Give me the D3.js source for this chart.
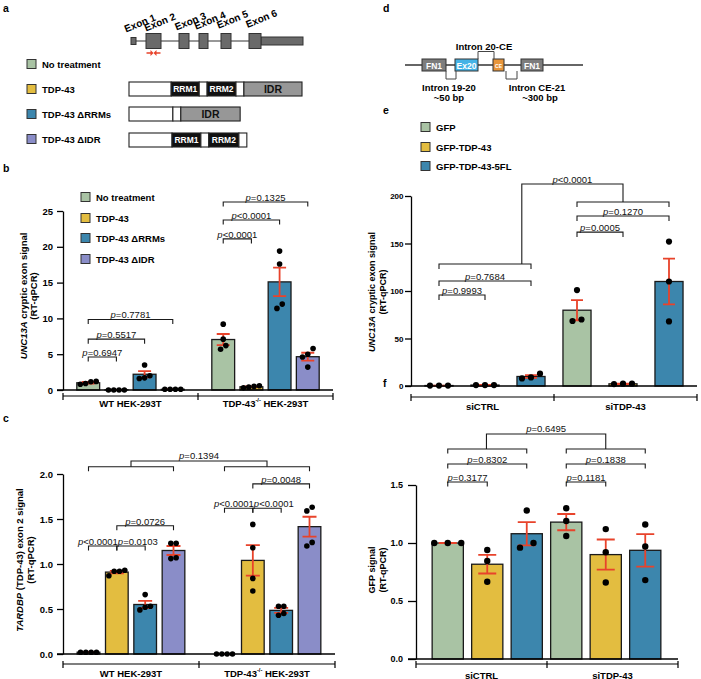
<!DOCTYPE html>
<html><head><meta charset="utf-8">
<script src="https://cdn.jsdelivr.net/npm/d3@7"></script>
<style>
body{margin:0;background:#fff}
svg{display:block;font-family:"Liberation Sans",Arial,Helvetica,sans-serif}
</style></head><body>
<svg id="fig" width="701" height="679"></svg>
<script>
// ================= DATA =================
const colBC = ["#a9c3a4","#e3bd40","#3c86ad","#8a8dc8"];
const colEF = ["#a9c3a4","#e3bd40","#3c86ad"];

// panel a
const exonNames = ["Exon 1","Exon 2","Exon 3","Exon 4","Exon 5","Exon 6"];
const exonStart = [0,15,48,68,90,118];
const exonEnd   = [5,30,58,77,100,130];
const geneEnd = 172;
const aSeries = ["No treatment","TDP-43","TDP-43 ΔRRMs","TDP-43 ΔIDR"];
const constructNames = ["TDP-43","TDP-43 ΔRRMs","TDP-43 ΔIDR"];
const constructSegs = [
  [[0,101,""],[101,168,"RRM1"],[168,187,""],[187,256,"RRM2"],[256,275,""],[275,414,"IDR"]],
  [[0,105,""],[105,124,""],[124,266,"IDR"]],
  [[0,103,""],[103,172,"RRM1"],[172,191,""],[191,263,"RRM2"],[263,282,""]]
];

// panel b
const bcGroups = ["WT HEK-293T","TDP-43-/- HEK-293T"];
const bMeans = [[1.01,0.02,2.2,0.1],[7.05,0.45,15.1,4.65]];
const bSem   = [[0.12,0.01,0.43,0.02],[0.77,0.06,2.0,0.55]];
const bPoints = [
  [[0.8,1.2,1.15,0.9],[0,0,0,0],[3.5,1.7,1.6,2.0],[0.1,0.1,0.1,0.1]],
  [[9.2,7.1,5.7,6.2],[0.6,0.3,0.5,0.4],[19.4,17.6,11.4,12.0],[5.8,4.6,5.0,3.2]]
];
const bTicks = [0,5,10,15,20,25];
const bPairs = [[0,0,1,"p=0.6947"],[0,0,2,"p=0.5517"],[0,0,3,"p=0.7781"],[1,0,1,"p<0.0001"],[1,0,2,"p<0.0001"],[1,0,3,"p=0.1325"]];
const bPairLevels = [4.6,7.1,9.85,21.1,23.75,26.25];
const bPairAlign = ["c","c","c","c","c","c"];

// panel c
const cMeans = [[0.02,0.91,0.55,1.15],[0,1.04,0.485,1.415]];
const cSem   = [[0.004,0.014,0.04,0.05],[0,0.17,0.027,0.11]];
const cPoints = [
  [[0.02,0.02,0.02,0.02],[0.87,0.92,0.93,0.92],[0.66,0.53,0.52,0.49],[1.23,1.23,1.07,1.06]],
  [[0,0,0,0],[1.44,0.84,0.70,1.18],[0.53,0.53,0.45,0.43],[1.59,1.63,1.20,1.24]]
];
const cTicks = [0,0.5,1.0,1.5,2.0];
const cPairs = [[0,0,1,"p<0.0001"],[0,1,2,"p=0.0103"],[0,1,3,"p=0.0726"],[1,0,1,"p<0.0001"],[1,1,2,"p<0.0001"],[1,1,3,"p=0.0048"]];
const cPairLevels = [1.2,1.2,1.425,1.62,1.62,1.89];
const cPairAlign = ["e","s","c","e","s","c"];
const cGroupLabel = "p=0.1394";
const cGroupLevels = [2.08,2.08];
const cTopLevel = 2.145;

// panel d
const dBoxLabels = ["FN1","Ex20","CE","FN1"];
const dBoxStart = [17,50,88,116];
const dBoxEnd = [41,73,99,138];
const dBoxColors = ["#7d7d7d","#45b3e6","#e8953a","#7d7d7d"];

// panel e
const efSeries = ["GFP","GFP-TDP-43","GFP-TDP-43-5FL"];
const efGroups = ["siCTRL","siTDP-43"];
const eMeans = [[0.5,1,10],[79.8,2.3,110]];
const eSem   = [[0,0.2,1.5],[10.6,0.3,24]];
const ePoints = [[[0.5,0.5,0.5],[1,1,1],[13,8,9]],[[101,68.4,70],[2.5,2,2.5],[152,110,68]]];
const eTicks = [0,50,100,150,200];
const ePairs = [[0,0,1,"p=0.9993"],[0,0,2,"p=0.7684"],[1,0,1,"p=0.0005"],[1,0,2,"p=0.1270"]];
const ePairLevels = [95.8,110.5,162,179];
const ePairAlign = ["c","c","c","c"];
const eGroupLabel = "p<0.0001";
const eGroupLevels = [128.4,193.7];
const eTopLevel = 212.6;

// panel f
const fMeans = [[1,0.817,1.08],[1.18,0.9,0.937]];
const fSem   = [[0,0.08,0.1],[0.07,0.13,0.14]];
const fPoints = [[[1,1,1],[0.94,0.845,0.666],[1.28,0.96,1.0]],[[1.30,1.19,1.06],[1.12,0.92,0.66],[1.16,0.97,0.68]]];
const fTicks = [0,0.5,1.0,1.5];
const fPairs = [[0,0,1,"p=0.3177"],[0,0,2,"p=0.8302"],[1,0,1,"p=0.1181"],[1,0,2,"p=0.1838"]];
const fPairLevels = [1.526,1.681,1.526,1.681];
const fPairAlign = ["c","c","c","c"];
const fGroupLabel = "p=0.6495";
const fGroupLevels = [1.81,1.81];
const fTopLevel = 1.94;

// ================= DRAW =================
const svg = d3.select("#fig");
const INK = "#1a1a1a", RED = "#e8432b";

[["a",3,12],["b",3,172],["c",3,422],["d",383,12],["e",383,114],["f",383,387]].forEach(d=>{
  svg.append("text").attr("x",d[1]).attr("y",d[2]).attr("font-size",10.5).attr("font-weight","bold").text(d[0]);
});

function legend(x, ys, names, colors, size){
  names.forEach((n,i)=>{
    svg.append("rect").attr("x",x).attr("y",ys[i]-4.5).attr("width",9).attr("height",9)
      .attr("fill",colors[i]).attr("stroke","#333").attr("stroke-width",1);
    svg.append("text").attr("x",x+15).attr("y",ys[i]).attr("dominant-baseline","central")
      .attr("font-size",size).attr("font-weight","bold").text(n);
  });
}

function pLabel(x, y, label, size, anchor){
  const t = svg.append("text").attr("x",x).attr("y",y).attr("text-anchor",anchor||"middle").attr("font-size",size).attr("fill","#111");
  t.append("tspan").attr("font-style","italic").text(label[0]);
  t.append("tspan").text(label.slice(1));
}

function groupText(sel, label){
  const m = label.match(/^(TDP-43)(-\/-)( .*)$/);
  if(m){
    sel.append("tspan").text(m[1]);
    sel.append("tspan").attr("font-size","0.6em").attr("dy",-3.5).text(m[2]);
    sel.append("tspan").attr("dy",3.5).text(m[3]);
  } else sel.text(label);
}

function yTitle(x1, x2, cy, parts, size){
  const t = svg.append("text").attr("transform",`translate(${x1},${cy}) rotate(-90)`)
    .attr("text-anchor","middle").attr("dominant-baseline","central").attr("font-size",size).attr("font-weight","bold");
  parts.forEach(p=>t.append("tspan").attr("font-style",p[1]?"italic":"normal").text(p[0]));
  svg.append("text").attr("transform",`translate(${x2},${cy}) rotate(-90)`)
    .attr("text-anchor","middle").attr("dominant-baseline","central").attr("font-size",size).attr("font-weight","bold").text("(RT-qPCR)");
}

function swarm(vals, y, gap, thresh){
  const idx = vals.map((v,i)=>i).sort((a,b)=>vals[a]-vals[b]);
  const clusters=[]; let cur=[];
  idx.forEach((i,k)=>{
    if(k>0 && Math.abs(y(vals[i])-y(vals[idx[k-1]]))>=thresh){clusters.push(cur);cur=[];}
    cur.push(i);
  });
  clusters.push(cur);
  const off = vals.map(()=>0);
  clusters.forEach(c=>c.forEach((i,j)=>off[i]=(j-(c.length-1)/2)*gap));
  return off;
}

function barPanel(p){
  const y = d3.scaleLinear().domain([0,p.yMax]).range([p.y0,p.yTop]);
  const x0 = d3.scaleBand().domain(d3.range(p.groups.length)).range(p.barRange);
  const x1 = d3.scaleBand().domain(d3.range(p.colors.length)).range([0,x0.bandwidth()]).paddingInner(p.pi).paddingOuter(p.po);
  const cx = (gi,si)=>x0(gi)+x1(si)+x1.bandwidth()/2;
  const g = svg.append("g");
  p.means.forEach((row,gi)=>row.forEach((m,si)=>{
    g.append("rect").attr("x",x0(gi)+x1(si)).attr("y",y(m)).attr("width",x1.bandwidth())
      .attr("height",y(0)-y(m)).attr("fill",p.colors[si]).attr("stroke",INK).attr("stroke-width",1.3);
  }));
  p.means.forEach((row,gi)=>row.forEach((m,si)=>{
    const s = p.sem[gi][si], c = cx(gi,si), hi=y(m+s), lo=y(m-s);
    g.append("path").attr("d",`M${c},${lo}V${hi}M${c-p.cap},${hi}H${c+p.cap}M${c-p.cap},${lo}H${c+p.cap}`)
      .attr("stroke",RED).attr("stroke-width",1.8).attr("fill","none");
  }));
  p.points.forEach((row,gi)=>row.forEach((vals,si)=>{
    const off = swarm(vals,y,p.gap,p.r*2+0.8);
    vals.forEach((v,k)=>g.append("circle").attr("cx",cx(gi,si)+off[k]).attr("cy",y(v)).attr("r",p.r).attr("fill","#000"));
  }));
  const ax = svg.append("g").attr("transform",`translate(${p.axisX},0)`)
    .call(d3.axisLeft(y).tickValues(p.ticks).tickFormat(p.fmt).tickSize(p.tickLen).tickPadding(p.tickPad).tickSizeOuter(0));
  ax.attr("font-family",null).attr("font-size",null);
  ax.selectAll("path,line").attr("stroke","#000").attr("stroke-width",1.3);
  ax.selectAll("text").attr("font-size",p.tickSize).attr("font-weight","bold").attr("fill","#000");
  svg.append("line").attr("x1",p.axisX-p.tickLen).attr("x2",p.right).attr("y1",y(0)).attr("y2",y(0))
    .attr("stroke","#000").attr("stroke-width",1.6);
  const gy = y(0)+p.gOff, mid=(p.axisX+p.right)/2;
  svg.append("path").attr("d",`M${p.axisX},${gy}H${p.right}M${p.axisX},${gy-3}v7M${mid},${gy-3}v7M${p.right},${gy-3}v7`)
    .attr("stroke","#000").attr("stroke-width",1.2).attr("fill","none");
  p.groups.forEach((gname,gi)=>{
    const gx = gi===0 ? (p.axisX+mid)/2 : (mid+p.right)/2;
    const t = svg.append("text").attr("x",gx).attr("y",y(0)+p.gLab).attr("text-anchor","middle")
      .attr("dominant-baseline","central").attr("font-size",p.gSize).attr("font-weight","bold");
    groupText(t,gname);
  });
  p.pairs.forEach((c,i)=>{
    const xa=cx(c[0],c[1]), xb=cx(c[0],c[2]), yy=y(p.levels[i]);
    svg.append("path").attr("d",`M${xa},${yy+p.bt}V${yy}H${xb}V${yy+p.bt}`)
      .attr("stroke",INK).attr("stroke-width",1.1).attr("fill","none");
    const al = p.align[i];
    if(al==="e") pLabel(xb+1, yy-1.2, c[3], p.pSize, "end");
    else if(al==="s") pLabel(xa+1, yy-1.2, c[3], p.pSize, "start");
    else pLabel((xa+xb)/2, yy-1.2, c[3], p.pSize);
  });
  if(p.groupLabel){
    const last = p.colors.length-1;
    const anchors = p.groups.map((gname,gi)=>{
      const xa=cx(gi,0), xb=cx(gi,last), yy=y(p.groupLevels[gi]);
      svg.append("path").attr("d",`M${xa},${yy+p.bt}V${yy}H${xb}V${yy+p.bt}`)
        .attr("stroke",INK).attr("stroke-width",1.1).attr("fill","none");
      return [xa+(xb-xa)*p.anchor[gi], yy];
    });
    const ty = y(p.topLevel);
    svg.append("path").attr("d",`M${anchors[0][0]},${anchors[0][1]}V${ty}H${anchors[1][0]}V${anchors[1][1]}`)
      .attr("stroke",INK).attr("stroke-width",1.1).attr("fill","none");
    pLabel((anchors[0][0]+anchors[1][0])/2, ty-1.5, p.groupLabel, p.pSize);
  }
}

// ---------- panel a ----------
const gxs = d3.scaleLinear().domain([0,geneEnd]).range([131,303]);
svg.append("line").attr("x1",gxs(0)).attr("x2",gxs(geneEnd)).attr("y1",41).attr("y2",41).attr("stroke","#333").attr("stroke-width",1.2);
svg.append("rect").attr("x",gxs(exonEnd[5])).attr("y",37).attr("width",gxs(geneEnd)-gxs(exonEnd[5])).attr("height",8)
  .attr("fill","#6a6a6a").attr("stroke","#333").attr("stroke-width",1);
exonStart.forEach((s,i)=>{
  const h = i===0?7:15;
  svg.append("rect").attr("x",gxs(s)).attr("y",41-h/2).attr("width",gxs(exonEnd[i])-gxs(s)).attr("height",h)
    .attr("fill","#6a6a6a").attr("stroke","#333").attr("stroke-width",1);
  const c = (gxs(s)+gxs(exonEnd[i]))/2 + 6.5;
  const ly = 23 - i*0.9;
  svg.append("text").attr("transform",`translate(${c},${ly}) rotate(-22)`).attr("text-anchor","middle")
    .attr("dominant-baseline","central").attr("font-size",10).attr("font-weight","bold").text(exonNames[i]);
});
const ex2c = (gxs(exonStart[1])+gxs(exonEnd[1]))/2;
svg.append("path").attr("d",`M${ex2c-7},53H${ex2c-2}M${ex2c+7},53H${ex2c+2}`).attr("stroke",RED).attr("stroke-width",1.6);
svg.append("path").attr("d",`M${ex2c-3},50L${ex2c},53L${ex2c-3},56Z M${ex2c+3},50L${ex2c},53L${ex2c+3},56Z`).attr("fill",RED);

legend(27,[64,89,114,139],aSeries,colBC,9.5);
const px = d3.scaleLinear().domain([0,414]).range([129,302]);
const rowY = [89,114,140];
constructSegs.forEach((segs,r)=>{
  segs.forEach(sg=>{
    const fill = sg[2].startsWith("RRM") ? "#111" : sg[2]==="IDR" ? "#979797" : "#fff";
    svg.append("rect").attr("x",px(sg[0])).attr("y",rowY[r]-7).attr("width",px(sg[1])-px(sg[0])).attr("height",14)
      .attr("fill",fill).attr("stroke","#222").attr("stroke-width",1.1);
    if(sg[2]){
      svg.append("text").attr("x",(px(sg[0])+px(sg[1]))/2).attr("y",rowY[r]).attr("text-anchor","middle")
        .attr("dominant-baseline","central").attr("font-weight","bold")
        .attr("font-size",sg[2]==="IDR"?10.5:8.5).attr("fill",sg[2]==="IDR"?"#111":"#fff").text(sg[2]);
    }
  });
});

// ---------- panel b ----------
legend(81,[197,218,238,259],aSeries,colBC,9.5);
barPanel({groups:bcGroups,colors:colBC,means:bMeans,sem:bSem,points:bPoints,
  yMax:25,y0:390,yTop:211,ticks:bTicks,fmt:d3.format("d"),
  barRange:[63,333],pi:0.19,po:0.49,axisX:63,right:333,tickLen:6,tickPad:4,tickSize:9.5,
  cap:6.5,r:2.8,gap:5.3,gOff:6,gLab:13,gSize:9.5,
  pairs:bPairs,levels:bPairLevels,align:bPairAlign,bt:4.5,pSize:9.5});
yTitle(22.5,33,296,[["UNC13A",true],[" cryptic exon signal",false]],9.5);

// ---------- panel c ----------
barPanel({groups:bcGroups,colors:colBC,means:cMeans,sem:cSem,points:cPoints,
  yMax:2,y0:654,yTop:474,ticks:cTicks,fmt:d3.format(".1f"),
  barRange:[63,335],pi:0.2,po:0.5,axisX:63,right:335,tickLen:6,tickPad:4,tickSize:9.5,
  cap:7,r:2.8,gap:5.3,gOff:10,gLab:19,gSize:9.5,
  pairs:cPairs,levels:cPairLevels,align:cPairAlign,bt:4.5,pSize:9.5,
  groupLabel:cGroupLabel,groupLevels:cGroupLevels,topLevel:cTopLevel,anchor:[0.5,0.5]});
yTitle(19,30,560,[["TARDBP",true],[" (TDP-43) exon 2 signal",false]],9.5);

// ---------- panel d ----------
const dx = d3.scaleLinear().domain([0,178]).range([405,583]);
svg.append("line").attr("x1",dx(0)).attr("x2",dx(178)).attr("y1",65).attr("y2",65).attr("stroke","#333").attr("stroke-width",1.3);
dBoxLabels.forEach((l,i)=>{
  svg.append("rect").attr("x",dx(dBoxStart[i])).attr("y",59).attr("width",dx(dBoxEnd[i])-dx(dBoxStart[i])).attr("height",12)
    .attr("fill",dBoxColors[i]).attr("stroke","#333").attr("stroke-width",1);
  svg.append("text").attr("x",(dx(dBoxStart[i])+dx(dBoxEnd[i]))/2).attr("y",65.5).attr("text-anchor","middle")
    .attr("dominant-baseline","central").attr("font-weight","bold").attr("font-size",l==="CE"?5:8.5).attr("fill","#fff").text(l);
});
const introns = [[73,89,-1],[41,51,1],[101,112,1]];
introns.forEach(t=>{
  const a=dx(t[0]), b=dx(t[1]);
  const y1 = t[2]<0?59:71, y2 = t[2]<0?51.5:79;
  svg.append("path").attr("d",`M${a},${y1}V${y2}H${b}V${y1}`).attr("stroke","#444").attr("stroke-width",1).attr("fill","none");
});
[["Intron 20-CE",484,46],["Intron 19-20",449,87.5],["~50 bp",449,97.5],["Intron CE-21",537,87.5],["~300 bp",540,97.5]].forEach(t=>{
  svg.append("text").attr("x",t[1]).attr("y",t[2]).attr("text-anchor","middle").attr("dominant-baseline","central")
    .attr("font-size",9.5).attr("font-weight","bold").text(t[0]);
});

// ---------- panel e ----------
legend(421,[127,147,166],efSeries,colEF,9.5);
barPanel({groups:efGroups,colors:colEF,means:eMeans,sem:eSem,points:ePoints,
  yMax:200,y0:386,yTop:196,ticks:eTicks,fmt:d3.format("d"),
  barRange:[416,692],pi:0.39,po:0.195,axisX:411,right:697,tickLen:6,tickPad:1.5,tickSize:8,
  cap:6,r:3.1,gap:9,gOff:11,gLab:20,gSize:9.5,
  pairs:ePairs,levels:ePairLevels,align:ePairAlign,bt:5,pSize:9.5,
  groupLabel:eGroupLabel,groupLevels:eGroupLevels,topLevel:eTopLevel,anchor:[0.9,0.5]});
yTitle(372,383,292,[["UNC13A",true],[" cryptic exon signal",false]],9);

// ---------- panel f ----------
barPanel({groups:efGroups,colors:colEF,means:fMeans,sem:fSem,points:fPoints,
  yMax:1.5,y0:659,yTop:485,ticks:fTicks,fmt:d3.format(".1f"),
  barRange:[428,665],pi:0.21,po:0.105,axisX:416,right:678,tickLen:8,tickPad:5,tickSize:9,
  cap:9,r:3.2,gap:13.5,gOff:5,gLab:16,gSize:9.5,
  pairs:fPairs,levels:fPairLevels,align:fPairAlign,bt:4.5,pSize:9.5,
  groupLabel:fGroupLabel,groupLevels:fGroupLevels,topLevel:fTopLevel,anchor:[0.49,0.5]});
yTitle(372,383,570,[["GFP signal",false]],9);
</script>
</body></html>
